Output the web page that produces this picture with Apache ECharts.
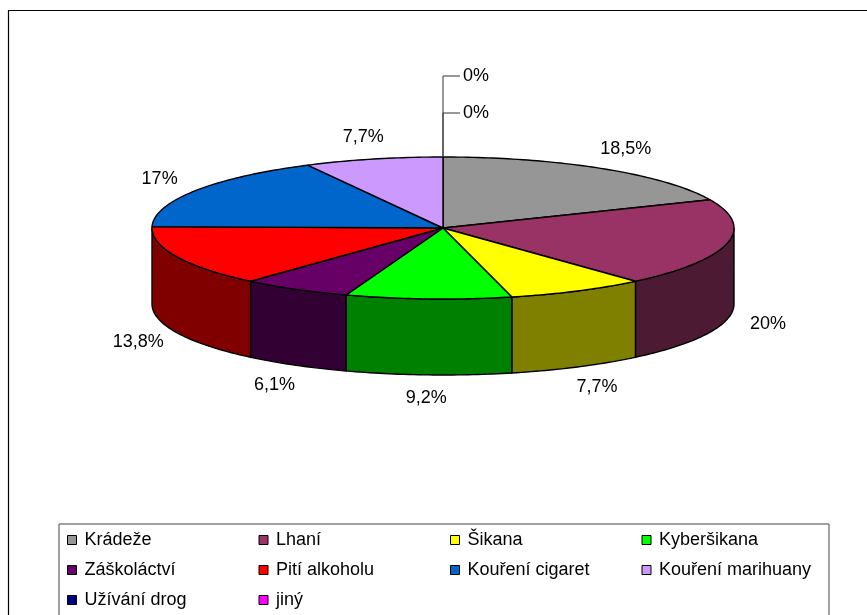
<!DOCTYPE html>
<html>
<head>
<meta charset="utf-8">
<script src="https://cdn.jsdelivr.net/npm/echarts@6/dist/echarts.min.js"></script>
<style>
    html, body { margin: 0; padding: 0; background: #fff; }
    #chart { width: 867px; height: 615px; }
</style>
</head>
<body>
<div id="chart"></div>
<script>
"use strict";

const categories = ['Krádeže', 'Lhaní', 'Šikana', 'Kyberšikana', 'Záškoláctví',
    'Pití alkoholu', 'Kouření cigaret', 'Kouření marihuany', 'Užívání drog', 'jiný'];
const values = [18.5, 20, 7.7, 9.2, 6.1, 13.8, 17, 7.7, 0, 0];
const colors = ['#969696', '#993366', '#FFFF00', '#00FF00', '#660066',
    '#FF0000', '#0066CC', '#CC99FF', '#000080', '#FF00FF'];

// 3d pie geometry (tilted disc)
const pie = { cx: 443, cy: 228, rx: 291, ry: 71, depth: 76 };
const font = 'Liberation Sans, Arial, sans-serif';

const total = values.reduce((a, b) => a + b, 0);
const cumul = [0];
values.forEach((v, i) => cumul.push(cumul[i] + v));

const fmt = v => String(v).replace('.', ',') + '%';

function darken(hex) {
    const n = parseInt(hex.slice(1), 16);
    const r = (n >> 16) & 255, g = (n >> 8) & 255, b = n & 255;
    return 'rgb(' + Math.round(r / 2) + ',' + Math.round(g / 2) + ',' + Math.round(b / 2) + ')';
}

// angle measured clockwise from 12 o'clock
const pt = (a, dy) => [pie.cx + pie.rx * Math.sin(a), pie.cy - pie.ry * Math.cos(a) + (dy || 0)];

function arc(a0, a1, dy) {
    const pts = [];
    const steps = Math.max(2, Math.ceil((a1 - a0) / (Math.PI / 180)));
    for (let s = 0; s <= steps; s++) pts.push(pt(a0 + (a1 - a0) * s / steps, dy));
    return pts;
}

function renderSlice(i) {
    return function () {
        const start = cumul[i] / total * 2 * Math.PI;
        const end = cumul[i + 1] / total * 2 * Math.PI;
        const children = [];

        if (values[i] > 0) {
            // front wall
            const w0 = Math.max(start, Math.PI / 2), w1 = Math.min(end, Math.PI * 1.5);
            if (w1 > w0) {
                const pts = arc(w0, w1, 0).concat(arc(w0, w1, pie.depth).reverse());
                children.push({
                    type: 'polygon', z2: 1,
                    shape: { points: pts },
                    style: { fill: darken(colors[i]), stroke: '#000', lineWidth: 1.4 }
                });
            }
            // top face
            children.push({
                type: 'polygon', z2: 10,
                shape: { points: [[pie.cx, pie.cy]].concat(arc(start, end, 0)) },
                style: { fill: colors[i], stroke: '#000', lineWidth: 1.4, lineJoin: 'round' }
            });
            const mid = (start + end) / 2;
            const front = Math.cos(mid) < 0 ? pie.depth : 0;
            children.push({
                type: 'text', z2: 20,
                x: pie.cx + (pie.rx + 42) * Math.sin(mid),
                y: pie.cy - (pie.ry + 23) * Math.cos(mid) + front,
                style: {
                    text: fmt(values[i]), fill: '#000', font: '18px ' + font,
                    align: 'center', verticalAlign: 'middle'
                }
            });
        } else {
            // zero slices: stacked labels above the pie with leader lines
            const k = values.slice(0, i).filter(v => v === 0).length;
            const topY = pie.cy - pie.ry;
            const ly = topY - 44 - k * 37;
            children.push({
                type: 'polyline', z2: 20,
                shape: { points: [[pie.cx, topY], [pie.cx, ly], [pie.cx + 17, ly]] },
                style: { stroke: '#333', lineWidth: 1, fill: null }
            });
            children.push({
                type: 'text', z2: 20,
                x: pie.cx + 20, y: ly,
                style: {
                    text: fmt(values[i]), fill: '#000', font: '18px ' + font,
                    align: 'left', verticalAlign: 'middle'
                }
            });
        }
        return { type: 'group', children: children };
    };
}

const chart = echarts.init(document.getElementById('chart'), null, { renderer: 'canvas' });

const series = categories.map((name, i) => ({
    name: name,
    type: 'custom',
    coordinateSystem: 'none',
    itemStyle: { color: colors[i] },
    renderItem: renderSlice(i),
    data: [[values[i]]]
}));

const option = {
    animation: false,
    backgroundColor: '#fff',
    color: colors,
    graphic: [{
        type: 'rect',
        shape: { x: 8.5, y: 10.5, width: 900, height: 700 },
        style: { fill: null, stroke: '#000', lineWidth: 1.2 },
        silent: true
    }],
    legend: {
        data: categories,
        left: 59,
        top: 524,
        width: 760,
        padding: [7, 8, 8, 8],
        itemGap: 12,
        itemWidth: 9,
        itemHeight: 9,
        icon: 'rect',
        borderColor: '#444',
        borderWidth: 1,
        itemStyle: { borderColor: '#000', borderWidth: 1 },
        textStyle: {
            fontFamily: font, fontSize: 18, color: '#000',
            width: 162, lineHeight: 18, padding: [0, 0, 0, 3]
        }
    },
    series: series
};

chart.setOption(option);
</script>
</body>
</html>
